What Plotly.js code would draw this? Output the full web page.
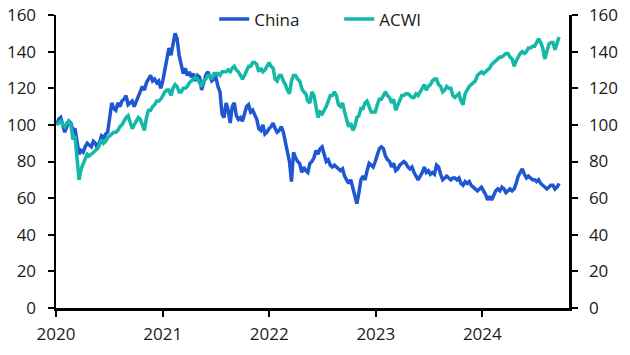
<!DOCTYPE html>
<html>
<head>
<meta charset="utf-8">
<script src="https://cdn.plot.ly/plotly-3.0.1.min.js"></script>
<style>
html,body{margin:0;padding:0;background:#fff;}
#chart{width:630px;height:355px;}
</style>
</head>
<body>
<div id="chart"></div>
<script>
// Weekly observations (Fridays), starting 2020-01-03
const firstWeek = '2020-01-03';

const china2020 = [100,103,104,99,96, 99,102,101,97, 98,90,84,86, 85,88,90,89, 88,91,90,87,90, 94,93,95,96,
  103,112,109,108,112, 110,113,114,116, 111,112,113,110, 113,116,118,121,119, 123,125,127,124, 125,123,124,120];
const china2021 = [124,130,136,142,138, 145,150,147,138, 133,128,131,127, 129,126,128,124,127, 126,119,124,127,
  129,126,124,125, 126,121,118,106,104, 112,108,101,110, 112,105,103,104, 102,106,110,111,107, 108,105,103,98, 97,100,95,96,98];
const china2022 = [99,101,98,96, 97,99,96,91, 87,80,69,85, 82,80,79,74,77, 75,74,79,80, 82,86,84,87,
  88,84,80,81,78, 77,78,77,76, 75,76,72,70,68, 70,66,62,57, 63,70,72,70, 75,79,78,77,80];
const china2023 = [84,87,88,87, 83,81,80,77, 79,75,76,78,79, 80,79,77,76, 77,74,72,70, 72,74,77,74,75,
  73,74,73,78, 77,73,70,71, 72,71,70,71,71, 70,71,68,67, 69,68,69,67, 66,65,64,65,66];
const china2024 = [64,62,59,61, 59,62,64,65, 64,66,65,63,64, 65,64,65,68, 72,74,76,73,71, 72,71,70,70,
  69,70,68,67, 66,65,66,67,67, 65,66,68];

const acwi2020 = [100,101,102,100,99, 101,102,100,92, 94,80,70,76, 79,82,84,83, 84,85,86,87,89, 92,90,91,93,
  94,95,96,96,97, 99,100,102,104, 105,101,98,100, 102,104,103,100,97, 104,108,108,110, 111,113,113,114];
const acwi2021 = [116,118,119,119,116, 120,122,121,118, 118,120,120,121, 123,124,125,126,125, 123,121,124,125,
  127,127,125,128, 128,128,127,129,129, 129,130,129,131, 132,130,129,127, 125,127,130,132,132, 134,134,133,129, 131,129,130,132,134];
const acwi2022 = [132,131,125,124, 127,127,124,122, 119,117,124,127, 127,125,124,120,118, 117,113,112,118, 116,110,104,107,
  106,108,110,113,116, 116,118,116,111, 110,112,107,102,99, 101,97,99,104, 105,109,109,112, 113,110,107,107,107];
const acwi2023 = [111,114,114,116, 118,116,115,112, 114,108,111,113,116, 116,117,117,116, 115,115,117,116, 118,120,122,119,121,
  122,124,125,125, 122,121,118,119, 121,120,120,116,115, 116,117,113,111, 117,119,121,122, 123,124,127,128,129];
const acwi2024 = [128,129,130,131, 133,134,135,136, 137,137,138,139,139, 137,136,132,135, 137,139,140,139,140, 142,142,143,143,
  145,147,145,142, 136,140,144,145,145, 141,145,148];

const chinaValues = [].concat(china2020, china2021, china2022, china2023, china2024);
const acwiValues = [].concat(acwi2020, acwi2021, acwi2022, acwi2023, acwi2024);

const yearTicks = ['2020-01-01','2021-01-01','2022-01-01','2023-01-01','2024-01-01'];
const yearLabels = ['2020','2021','2022','2023','2024'];
const seriesNames = ['China','ACWI'];

function weeklyDates(start, n){
  const out = [];
  const d0 = new Date(start + 'T00:00:00Z');
  for (let i = 0; i < n; i++){
    const d = new Date(d0.getTime() + i*7*86400000);
    out.push(d.toISOString().slice(0,10));
  }
  return out;
}
const dates = weeklyDates(firstWeek, chinaValues.length);

const FONT = 'Open Sans, Lato, sans-serif';
const axisCommon = {
  showline:true, linecolor:'#000', linewidth:2.5,
  ticks:'outside', ticklen:6, tickwidth:2, tickcolor:'#000',
  showgrid:false, zeroline:false,
  tickfont:{family:FONT, size:17, color:'#1a1a1a'}
};

const traces = [
  {x:dates, y:chinaValues, name:seriesNames[0], type:'scatter', mode:'lines',
   line:{color:'#1F56D2', width:3.5}, yaxis:'y'},
  {x:dates, y:acwiValues, name:seriesNames[1], type:'scatter', mode:'lines',
   line:{color:'#12B9A6', width:3.5}, yaxis:'y2'}
];

const layout = {
  width:630, height:355,
  margin:{l:56, r:61, t:15, b:47, pad:0, autoexpand:false},
  paper_bgcolor:'#fff', plot_bgcolor:'#fff',
  font:{family:FONT, size:17, color:'#1a1a1a'},
  showlegend:true,
  legend:{orientation:'h', x:0.552, xanchor:'center', y:0.985, yanchor:'middle',
    bgcolor:'rgba(0,0,0,0)', font:{family:FONT, size:17, color:'#1a1a1a'},
    entrywidth:80, entrywidthmode:'pixels', tracegroupgap:0},
  xaxis:Object.assign({}, axisCommon, {type:'date', range:['2020-01-01','2024-10-24'],
    tickmode:'array', tickvals:yearTicks, ticktext:yearLabels, ticklabelstandoff:3}),
  yaxis:Object.assign({}, axisCommon, {range:[0,160], dtick:20, tick0:0, ticklabelstandoff:8}),
  yaxis2:Object.assign({}, axisCommon, {range:[0,160], dtick:20, tick0:0, overlaying:'y', side:'right', anchor:'x', ticklabelstandoff:8})
};

Plotly.newPlot('chart', traces, layout, {staticPlot:true, displayModeBar:false});
</script>
</body>
</html>
